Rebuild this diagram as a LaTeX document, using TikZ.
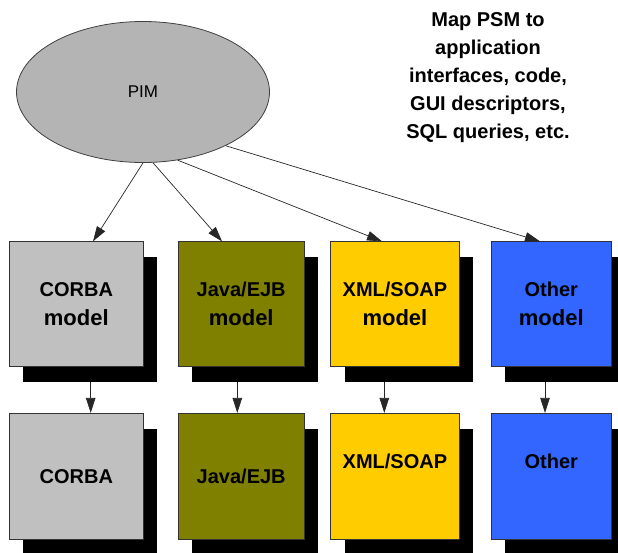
\documentclass[tikz,border=0pt]{standalone}
\usepackage{fontspec}
\setmainfont{Liberation Sans}
\usetikzlibrary{shapes.geometric,arrows.meta,shadows}
\definecolor{pimgray}{RGB}{180,180,180}
\definecolor{corbagray}{RGB}{192,192,192}
\definecolor{javaolive}{RGB}{128,128,0}
\definecolor{xmlgold}{RGB}{255,204,0}
\definecolor{otherblue}{RGB}{51,102,255}
\begin{document}
\begin{tikzpicture}[x=1pt,y=-1pt,
  box/.style={draw=black!80,line width=0.8pt,inner sep=0pt,align=center,
    font=\fontsize{20}{29}\selectfont\bfseries,
    drop shadow={shadow xshift=14pt,shadow yshift=-15.5pt,fill=black,opacity=1}},
  rowa/.style={minimum height=124.3pt},
  rowb/.style={minimum height=126pt},
  arr/.style={-{Triangle[length=15pt,width=9.5pt]},line width=0.7pt,draw=black!85},
]
\useasboundingbox (0,0) rectangle (618,552);
\newcommand{\mdltext}{{\fontsize{22}{29}\selectfont model}}

\node[ellipse,draw=black!75,line width=0.8pt,fill=pimgray,minimum width=253pt,minimum height=141pt,inner sep=0pt,font=\fontsize{17}{20}\selectfont] (pim) at (143,92) {PIM};

\node[align=center,font=\fontsize{20}{28}\selectfont\bfseries] (note) at (488,78)
  {Map PSM to\\application\\interfaces, code,\\GUI descriptors,\\SQL queries, etc.};

% first row
\node[box,rowa,fill=corbagray,minimum width=134pt] (c1) at (76.3,303.9) {CORBA\\\mdltext};
\node[box,rowa,fill=javaolive,minimum width=125.7pt] (j1) at (241.2,303.9) {Java/EJB\\\mdltext};
\node[box,rowa,fill=xmlgold,minimum width=128.3pt] (x1) at (394.9,303.9) {XML/SOAP\\\mdltext};
\node[box,rowa,fill=otherblue,minimum width=120.7pt] (o1) at (551.3,303.9) {Other\\\mdltext};

% second row
\node[box,rowb,fill=corbagray,minimum width=134pt] (c2) at (76.3,476.3) {CORBA};
\node[box,rowb,fill=javaolive,minimum width=125.7pt] (j2) at (241.2,476.3) {Java/EJB};
\node[box,rowb,fill=xmlgold,minimum width=128.3pt] (x2) at (394.9,476.3) {XML/SOAP\\\vphantom{\mdltext}};
\node[box,rowb,fill=otherblue,minimum width=120.7pt] (o2) at (551.3,476.3) {Other\\\vphantom{\mdltext}};

% arrows from PIM
\draw[arr] (pim.-90) -- ([xshift=16.7pt]c1.north);
\draw[arr] (pim.-82) -- ([xshift=-19.2pt]j1.north);
\draw[arr] (pim.-63) -- ([xshift=-12.9pt]x1.north);
\draw[arr] (pim.-33) -- ([xshift=-11.3pt]o1.north);

% arrows between rows
\draw[arr] ([xshift=14.4pt,yshift=-15.5pt]c1.south) -- ([xshift=14.4pt]c2.north);
\draw[arr] ([xshift=-3.9pt,yshift=-15.5pt]j1.south) -- ([xshift=-3.9pt]j2.north);
\draw[arr] ([xshift=-10.6pt,yshift=-15.5pt]x1.south) -- ([xshift=-10.6pt]x2.north);
\draw[arr] ([xshift=-6.3pt,yshift=-15.5pt]o1.south) -- ([xshift=-6.3pt]o2.north);
\end{tikzpicture}
\end{document}
